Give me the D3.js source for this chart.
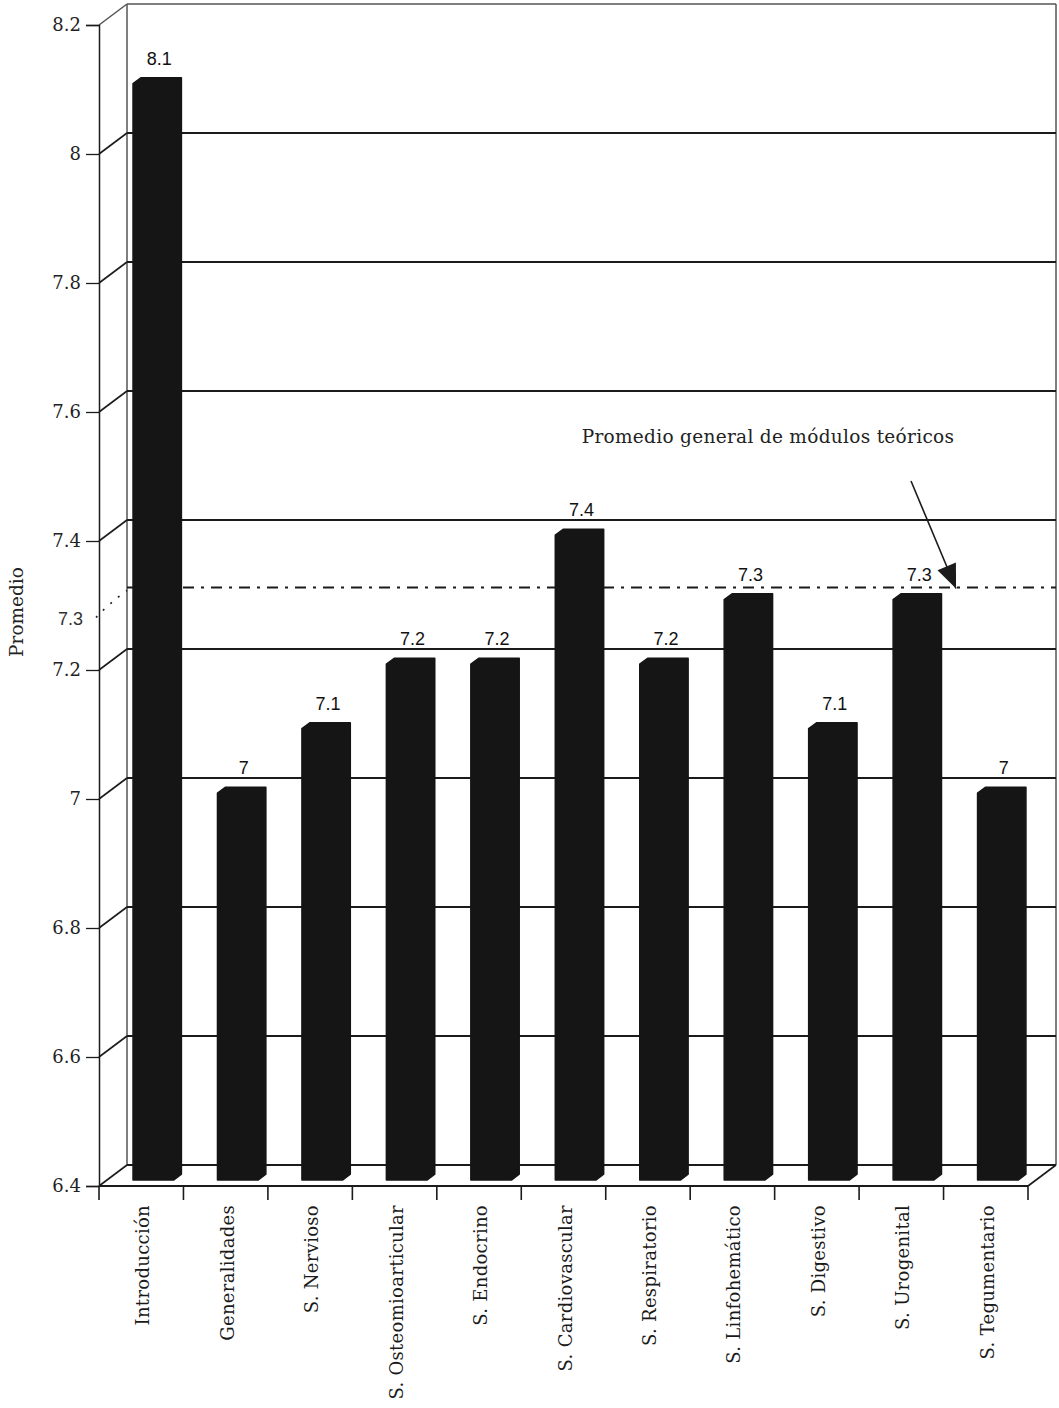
<!DOCTYPE html>
<html>
<head>
<meta charset="utf-8">
<script src="https://cdn.jsdelivr.net/npm/d3@7"></script>
<style>
  html, body { margin: 0; padding: 0; background: #fff; }
  svg { display: block; }
</style>
</head>
<body>
<script>
// Modules and their average grade
const modulos = ["Introducción", "Generalidades", "S. Nervioso", "S. Osteomioarticular",
  "S. Endocrino", "S. Cardiovascular", "S. Respiratorio", "S. Linfohemático",
  "S. Digestivo", "S. Urogenital", "S. Tegumentario"];
const promedios = [8.1, 7.0, 7.1, 7.2, 7.2, 7.4, 7.2, 7.3, 7.1, 7.3, 7.0];
const yTicks = [6.4, 6.6, 6.8, 7.0, 7.2, 7.4, 7.6, 7.8, 8.0, 8.2];
const yTickLabels = ["6.4", "6.6", "6.8", "7", "7.2", "7.4", "7.6", "7.8", "8", "8.2"];
const promedioGeneral = 7.3;
const promedioGeneralLabel = "7.3";
const notaTexto = "Promedio general de módulos teóricos";
const ejeY = "Promedio";

const W = 1059, H = 1408;
const svg = d3.select("body").append("svg").attr("width", W).attr("height", H);

// front plane of the 3D box and its depth offset
const x0 = 99, x1 = 1028, yTop = 25, yBot = 1186;
const DX = 28, DY = -21;
const ink = "#1b1b1b";
const serif = "'DejaVu Serif', serif";
const sans = "'Liberation Sans', Arial, sans-serif";

const x = d3.scaleBand().domain(modulos).range([x0, x1]).padding(0);
const y = d3.scaleLinear().domain([6.4, 8.2]).range([yBot, yTop]);
const bw = x.bandwidth();

const g = svg.append("g");

// back wall and floor
const box = g.append("g").attr("fill", "none").attr("stroke", "#555").attr("stroke-width", 1.5);
box.append("line").attr("x1", x0).attr("y1", y(8.2)).attr("x2", x0 + DX).attr("y2", y(8.2) + DY);
box.append("line").attr("x1", x0 + DX).attr("y1", y(8.2) + DY).attr("x2", x1 + DX).attr("y2", y(8.2) + DY);
box.append("line").attr("x1", x0 + DX).attr("y1", y(8.2) + DY).attr("x2", x0 + DX).attr("y2", y(6.4) + DY);
box.append("line").attr("x1", x1 + DX).attr("y1", y(8.2) + DY).attr("x2", x1 + DX).attr("y2", y(6.4) + DY);

// gridlines on the back wall with their slant on the side wall
const grid = g.append("g").attr("stroke", ink).attr("stroke-width", 2).attr("fill", "none");
yTicks.filter(v => v < 8.2).forEach(v => {
  grid.append("line").attr("x1", x0).attr("y1", y(v)).attr("x2", x0 + DX).attr("y2", y(v) + DY)
    .attr("stroke-width", 1.6);
  grid.append("line").attr("x1", x0 + DX).attr("y1", y(v) + DY).attr("x2", x1 + DX).attr("y2", y(v) + DY);
});
// floor front edge and right slant
grid.append("line").attr("x1", x0).attr("y1", yBot).attr("x2", x1).attr("y2", yBot).attr("stroke-width", 2.2);
grid.append("line").attr("x1", x1).attr("y1", yBot).attr("x2", x1 + DX).attr("y2", yBot + DY).attr("stroke-width", 1.6);

// general average reference line
const yRef = y(promedioGeneral);
g.append("line").attr("x1", x0 + DX).attr("y1", yRef + DY + 3).attr("x2", x1 + DX).attr("y2", yRef + DY + 3)
  .attr("stroke", ink).attr("stroke-width", 2).attr("stroke-dasharray", "11,7,3,7");
g.append("path")
  .attr("d", `M${x0 - 3},${yRef + 12} Q${x0 + 10},${yRef - 2} ${x0 + DX},${yRef + DY + 6}`)
  .attr("fill", "none").attr("stroke", ink).attr("stroke-width", 1.6).attr("stroke-dasharray", "2,8");

// bars as extruded prisms
const f1 = 0.28, f2 = 0.56;
const o1 = [f1 * DX, f1 * DY], o2 = [f2 * DX, f2 * DY];
function barPath(d, i) {
  const xa = x(modulos[i]) + 0.31 * bw, xb = xa + 0.48 * bw;
  const yt = y(d), yb = y(6.4);
  const pts = [
    [xa + o1[0], yt + o1[1]], [xa + o2[0], yt + o2[1]], [xb + o2[0], yt + o2[1]],
    [xb + o2[0], yb + o2[1]], [xb + o1[0], yb + o1[1]], [xa + o1[0], yb + o1[1]]
  ];
  return d3.line()(pts) + "Z";
}
g.append("g").selectAll("path").data(promedios).join("path")
  .attr("d", barPath)
  .attr("fill", "#151515").attr("stroke", "#151515").attr("stroke-width", 1.5)
  .attr("stroke-linejoin", "round");

// value labels above bars
g.append("g").selectAll("text").data(promedios).join("text")
  .attr("x", (d, i) => x(modulos[i]) + 0.31 * bw + 0.24 * bw + (o1[0] + o2[0]) / 2 + 2)
  .attr("y", d => y(d) + o2[1] - 13)
  .attr("text-anchor", "middle").attr("font-family", sans).attr("font-size", 18)
  .attr("fill", "#111")
  .text(d => d3.format("")(d));

// front y axis
const yAxis = d3.axisLeft(y).tickValues(yTicks).tickSize(13).tickPadding(5)
  .tickFormat((d, i) => yTickLabels[i]);
const ya = g.append("g").attr("transform", `translate(${x0},0)`).call(yAxis);
ya.select(".domain").attr("stroke", ink).attr("stroke-width", 1.5);
ya.selectAll(".tick line").attr("stroke", ink).attr("stroke-width", 1.3);
ya.selectAll(".tick text").attr("font-family", serif).attr("font-size", 18).attr("fill", "#222");

// reference value on the axis
g.append("text").attr("x", x0 - 16).attr("y", yRef + 19)
  .attr("text-anchor", "end").attr("font-family", sans).attr("font-size", 18).attr("fill", "#333")
  .text(promedioGeneralLabel);

// front x axis ticks at the band edges
const xa = g.append("g");
d3.range(modulos.length + 1).forEach(i => {
  const xx = x0 + i * bw;
  xa.append("line").attr("x1", xx).attr("y1", yBot).attr("x2", xx).attr("y2", yBot + 14)
    .attr("stroke", ink).attr("stroke-width", 1.6);
});
xa.selectAll("text").data(modulos).join("text")
  .attr("transform", d => `translate(${x(d) + bw / 2 + 8},1205) rotate(-90)`)
  .attr("text-anchor", "end").attr("font-family", serif).attr("font-size", 18)
  .attr("letter-spacing", 0.3).attr("fill", "#1a1a1a")
  .text(d => d);

// y axis title
g.append("text").attr("transform", `translate(23,612) rotate(-90)`)
  .attr("text-anchor", "middle").attr("font-family", serif).attr("font-size", 18.5).attr("fill", "#222")
  .text(ejeY);

// annotation with arrow to the reference line
g.append("text").attr("x", 768).attr("y", 443).attr("text-anchor", "middle")
  .attr("font-family", serif).attr("font-size", 18.5).attr("letter-spacing", 0.3).attr("fill", "#222")
  .text(notaTexto);
const tipX = 956, tipY = yRef + DY + 4;
g.append("line").attr("x1", 911).attr("y1", 481).attr("x2", tipX).attr("y2", tipY)
  .attr("stroke", ink).attr("stroke-width", 1.6);
g.append("path")
  .attr("d", (() => {
    const ang = Math.atan2(tipY - 481, tipX - 911);
    const L = 24, Wd = 10;
    const bx = tipX - L * Math.cos(ang), by = tipY - L * Math.sin(ang);
    const px = -Math.sin(ang) * Wd, py = Math.cos(ang) * Wd;
    return `M${tipX},${tipY} L${bx + px},${by + py} L${bx - px},${by - py} Z`;
  })())
  .attr("fill", ink);
</script>
</body>
</html>
